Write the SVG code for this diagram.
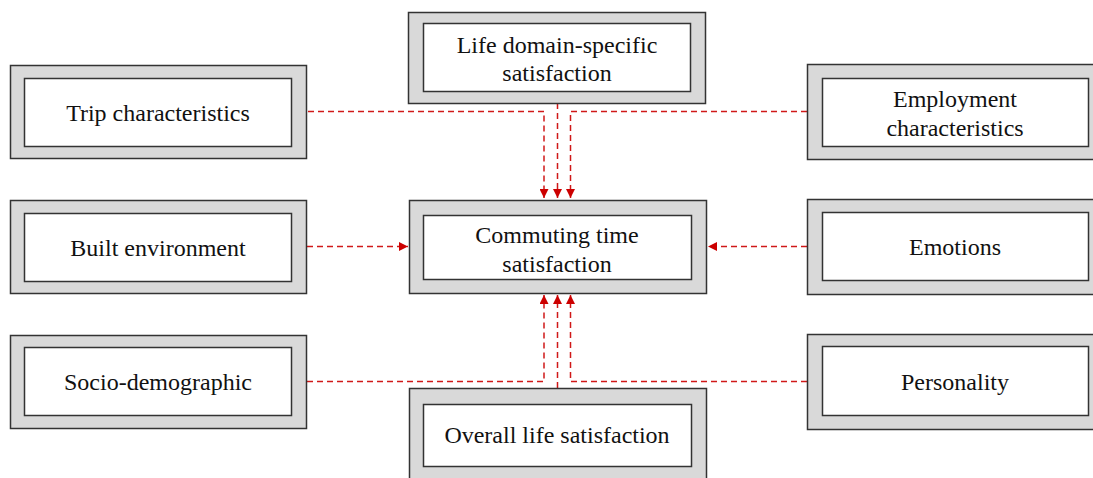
<svg xmlns="http://www.w3.org/2000/svg" width="1093" height="478" viewBox="0 0 1093 478">
<defs>
<style>
.outer{fill:#d9d9d9;stroke:#333;stroke-width:1.5}
.inner{fill:#fff;stroke:#333;stroke-width:1.5}
.lbl{font-family:"Liberation Serif","Times New Roman",serif;font-size:24px;fill:#111;text-anchor:middle}
.con{fill:none;stroke:#d01818;stroke-width:1.5;stroke-dasharray:6 4}
</style>
<marker id="arr" viewBox="0 0 10 10" refX="10" refY="5" markerWidth="9" markerHeight="9" markerUnits="userSpaceOnUse" orient="auto">
<path d="M0,0 L10,5 L0,10 Z" fill="#cc0000"/>
</marker>
</defs>
<rect width="1093" height="478" fill="#fff"/>
<g id="connectors">
<path class="con" d="M308,111.5 H544 V198" marker-end="url(#arr)"/>
<path class="con" d="M557.5,103 V198" marker-end="url(#arr)"/>
<path class="con" d="M807,111.5 H570.5 V198" marker-end="url(#arr)"/>
<path class="con" d="M307,246.5 H408" marker-end="url(#arr)"/>
<path class="con" d="M807,246.5 H708" marker-end="url(#arr)"/>
<path class="con" d="M307,381.5 H544 V295" marker-end="url(#arr)"/>
<path class="con" d="M557.5,388 V295" marker-end="url(#arr)"/>
<path class="con" d="M807,381.5 H570.5 V295" marker-end="url(#arr)"/>
</g>
<g id="trip">
<rect class="outer" x="10.5" y="65.5" width="296" height="93"/>
<rect class="inner" x="24.5" y="78.5" width="267" height="68"/>
<text class="lbl" x="158" y="120.5">Trip characteristics</text>
</g>
<g id="built">
<rect class="outer" x="10.5" y="200.5" width="296" height="93"/>
<rect class="inner" x="24.5" y="213.5" width="267" height="68"/>
<text class="lbl" x="158" y="256">Built environment</text>
</g>
<g id="socio">
<rect class="outer" x="10.5" y="335.5" width="296" height="93"/>
<rect class="inner" x="24.5" y="347.5" width="267" height="68"/>
<text class="lbl" x="158" y="390">Socio-demographic</text>
</g>
<g id="lifedomain">
<rect class="outer" x="408.5" y="12.5" width="297" height="91"/>
<rect class="inner" x="423.5" y="23.5" width="267" height="68"/>
<text class="lbl" x="557" y="53">Life domain-specific</text>
<text class="lbl" x="557" y="81">satisfaction</text>
</g>
<g id="commuting">
<rect class="outer" x="409.5" y="200.5" width="297" height="93"/>
<rect class="inner" x="423.5" y="215.5" width="268" height="64"/>
<text class="lbl" x="557" y="243">Commuting time</text>
<text class="lbl" x="557" y="272">satisfaction</text>
</g>
<g id="overall">
<rect class="outer" x="409.5" y="388.5" width="297" height="95"/>
<rect class="inner" x="423.5" y="404.5" width="268" height="62"/>
<text class="lbl" x="557" y="443">Overall life satisfaction</text>
</g>
<g id="employment">
<rect class="outer" x="807.5" y="64.5" width="300" height="95"/>
<rect class="inner" x="822.5" y="78.5" width="266" height="68"/>
<text class="lbl" x="955" y="107">Employment</text>
<text class="lbl" x="955" y="136">characteristics</text>
</g>
<g id="emotions">
<rect class="outer" x="807.5" y="199.5" width="300" height="95"/>
<rect class="inner" x="822.5" y="212.5" width="266" height="68"/>
<text class="lbl" x="955" y="255">Emotions</text>
</g>
<g id="personality">
<rect class="outer" x="807.5" y="334.5" width="300" height="95"/>
<rect class="inner" x="822.5" y="346.5" width="266" height="69"/>
<text class="lbl" x="955" y="390">Personality</text>
</g>
</svg>
